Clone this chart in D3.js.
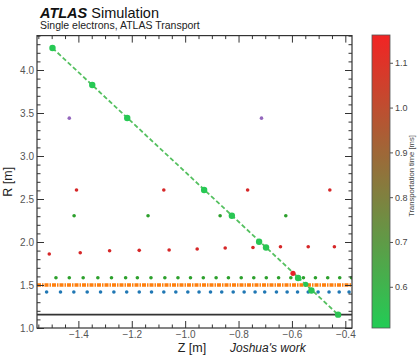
<!DOCTYPE html>
<html>
<head>
<meta charset="utf-8">
<script src="https://cdn.jsdelivr.net/npm/d3@7"></script>
<style>
  body { margin: 0; background: #fff; }
  svg { font-family: "Liberation Sans", Arial, sans-serif; }
</style>
</head>
<body>
<svg id="chart" width="418" height="355"></svg>
<script>
// track (main dashed line), Z/R in metres, time in ms
const trackZ = [-1.497, -1.348, -1.217, -0.929, -0.825, -0.723, -0.697, -0.577, -0.548, -0.527, -0.427];
const trackR = [4.256, 3.826, 3.442, 2.605, 2.306, 2.003, 1.936, 1.581, 1.508, 1.436, 1.155];
const trackT = [0.52, 0.52, 0.52, 0.52, 0.53, 0.53, 0.53, 0.53, 0.53, 0.54, 0.54];
const trackSize = [3.2, 3.2, 3.2, 3.2, 3.2, 3.2, 3.2, 3.2, 2.6, 3.2, 3.2];

// detector layer hits
const blueZ = [-1.519, -1.467, -1.417, -1.367, -1.317, -1.267, -1.219, -1.172, -1.126, -1.080, -1.035, -0.990, -0.948, -0.905,
  -0.863, -0.820, -0.779, -0.738, -0.702, -0.658, -0.618, -0.579, -0.539, -0.502, -0.461, -0.423, -0.386];
const blueR = 1.419;
const greenLowZ = [-1.484, -1.434, -1.382, -1.327, -1.276, -1.223, -1.179, -1.128, -1.076, -1.027, -0.980, -0.932,
  -0.884, -0.838, -0.790, -0.743, -0.696, -0.650, -0.604, -0.557, -0.512, -0.466, -0.421, -0.377];
const greenLowR = 1.585;
const redLowZ = [-1.509, -1.393, -1.283, -1.172, -1.060, -0.955, -0.850, -0.746, -0.643, -0.539, -0.441];
const redLowR = [1.860, 1.875, 1.899, 1.903, 1.907, 1.919, 1.930, 1.936, 1.945, 1.945, 1.945];
const greenHighZ = [-1.416, -1.139, -0.869, -0.623];
const greenHighR = 2.306;
const redHighZ = [-1.407, -1.080, -0.766, -0.458];
const redHighR = 2.605;
const purpleZ = [-1.434, -0.714];
const purpleR = 3.44;
const redExtraZ = [-0.596];
const redExtraR = [1.636];
const orangeZ = [-1.555, -0.375];
const orangeR = [1.5, 1.5];
const blackZ = [-1.555, -0.375];
const blackR = [1.155, 1.155];

const xTicks = [-1.4, -1.2, -1.0, -0.8, -0.6, -0.4];
const yTicks = [1.0, 1.5, 2.0, 2.5, 3.0, 3.5, 4.0];
const cbTicks = [0.6, 0.7, 0.8, 0.9, 1.0, 1.1];

const svg = d3.select("#chart");
const plotL = 37, plotR = 352, plotT = 35.6, plotB = 328;

const x = d3.scaleLinear().domain([-1.555, -0.375]).range([plotL, plotR]);
const y = d3.scaleLinear().domain([1.0, 4.4]).range([plotB, plotT]);
const color = d3.scaleLinear().domain([0.508, 1.162]).range(["#22cc55", "#f22424"]);

const axisColor = "#333";

// clip for the plot area
svg.append("clipPath").attr("id", "plotclip")
  .append("rect").attr("x", plotL).attr("y", plotT).attr("width", plotR - plotL).attr("height", plotB - plotT);

const plot = svg.append("g").attr("clip-path", "url(#plotclip)");

// horizontal reference lines
plot.append("line")
  .attr("x1", x(blackZ[0])).attr("x2", x(blackZ[1]))
  .attr("y1", y(blackR[0])).attr("y2", y(blackR[1]))
  .attr("stroke", "#333").attr("stroke-width", 1.6);

plot.append("line")
  .attr("x1", x(orangeZ[0])).attr("x2", x(orangeZ[1]))
  .attr("y1", y(orangeR[0])).attr("y2", y(orangeR[1]))
  .attr("stroke", "#ff7f0e").attr("stroke-width", 3.4)
  .attr("stroke-dasharray", "4 1 1.5 1");

// small layer dots
function dots(zs, rs, fill, rad) {
  plot.append("g").selectAll("circle")
    .data(zs)
    .enter()
    .append("circle")
      .attr("cx", d => x(d))
      .attr("cy", (d, i) => y(Array.isArray(rs) ? rs[i] : rs))
      .attr("r", rad || 1.8)
      .attr("fill", fill);
}
dots(blueZ, blueR, "#1f77b4");
dots(greenLowZ, greenLowR, "#2ca02c");
dots(redLowZ, redLowR, "#d62728");
dots(greenHighZ, greenHighR, "#2ca02c");
dots(redHighZ, redHighR, "#d62728");
dots(purpleZ, purpleR, "#9467bd");

// track
const track = trackZ.map((z, i) => ({z: z, r: trackR[i], t: trackT[i], s: trackSize[i]}));
plot.append("path")
  .datum([track[0], track[track.length - 1]])
  .attr("d", d3.line().x(d => x(d.z)).y(d => y(d.r)))
  .attr("fill", "none")
  .attr("stroke", "#55c060")
  .attr("stroke-width", 1.8)
  .attr("stroke-dasharray", "4.5 2.5");

plot.append("g").selectAll("circle")
  .data(track)
  .enter()
  .append("circle")
    .attr("cx", d => x(d.z))
    .attr("cy", d => y(d.r))
    .attr("r", d => d.s)
    .attr("fill", d => color(d.t));

dots(redExtraZ, redExtraR, "#e8232a", 2.6);

// axes, ATLAS style: ticks inside on all four sides
const xMinor = d3.range(-1.55, -0.374, 0.05).filter(v => !xTicks.some(t => Math.abs(t - v) < 1e-6));
const yMinor = d3.range(1.1, 4.41, 0.1).filter(v => !yTicks.some(t => Math.abs(t - v) < 1e-6));

svg.append("g").attr("transform", "translate(0," + plotB + ")")
  .call(d3.axisBottom(x).tickValues(xTicks).tickSize(-7).tickPadding(3).tickFormat(d3.format(".1f")))
  .call(g => g.select(".domain").remove());
svg.append("g").attr("transform", "translate(0," + plotB + ")")
  .call(d3.axisBottom(x).tickValues(xMinor).tickSize(-3.5).tickFormat(""))
  .call(g => g.select(".domain").remove());
svg.append("g").attr("transform", "translate(0," + plotT + ")")
  .call(d3.axisTop(x).tickValues(xTicks).tickSize(-7).tickFormat(""))
  .call(g => g.select(".domain").remove());
svg.append("g").attr("transform", "translate(0," + plotT + ")")
  .call(d3.axisTop(x).tickValues(xMinor).tickSize(-3.5).tickFormat(""))
  .call(g => g.select(".domain").remove());

svg.append("g").attr("transform", "translate(" + plotL + ",0)")
  .call(d3.axisLeft(y).tickValues(yTicks).tickSize(-7).tickPadding(3).tickFormat(d3.format(".1f")))
  .call(g => g.select(".domain").remove());
svg.append("g").attr("transform", "translate(" + plotL + ",0)")
  .call(d3.axisLeft(y).tickValues(yMinor).tickSize(-3.5).tickFormat(""))
  .call(g => g.select(".domain").remove());
svg.append("g").attr("transform", "translate(" + plotR + ",0)")
  .call(d3.axisRight(y).tickValues(yTicks).tickSize(-7).tickFormat(""))
  .call(g => g.select(".domain").remove());
svg.append("g").attr("transform", "translate(" + plotR + ",0)")
  .call(d3.axisRight(y).tickValues(yMinor).tickSize(-3.5).tickFormat(""))
  .call(g => g.select(".domain").remove());

svg.selectAll(".tick line").attr("stroke", axisColor);
svg.selectAll(".tick text").attr("fill", "#555").style("font-size", "10px");

svg.append("rect")
  .attr("x", plotL).attr("y", plotT).attr("width", plotR - plotL).attr("height", plotB - plotT)
  .attr("fill", "none").attr("stroke", axisColor).attr("stroke-width", 1.2);

// axis labels
svg.append("text")
  .attr("transform", "translate(12," + ((plotT + plotB) / 2) + ") rotate(-90)")
  .attr("text-anchor", "middle")
  .style("font-size", "12.5px")
  .attr("fill", "#222")
  .text("R [m]");

svg.append("text")
  .attr("x", 192).attr("y", 352)
  .attr("text-anchor", "middle")
  .style("font-size", "12.5px")
  .attr("fill", "#222")
  .text("Z [m]");

svg.append("text")
  .attr("x", 230).attr("y", 352)
  .style("font-size", "12px")
  .style("font-style", "italic")
  .attr("fill", "#222")
  .text("Joshua's work");

// title block
const title = svg.append("text").attr("x", 40).attr("y", 17.5).style("font-size", "14.5px").attr("fill", "#111");
title.append("tspan").style("font-weight", "bold").style("font-style", "italic").text("ATLAS");
title.append("tspan").text(" Simulation");

svg.append("text")
  .attr("x", 40).attr("y", 29)
  .style("font-size", "10.5px")
  .attr("fill", "#222")
  .text("Single electrons, ATLAS Transport");

// colour bar
const cbLeft = 372, cbWidth = 18;
const cbY = d3.scaleLinear().domain(color.domain()).range([plotB, plotT - 0.6]);

const grad = svg.append("defs").append("linearGradient")
  .attr("id", "cbgrad").attr("x1", 0).attr("y1", 1).attr("x2", 0).attr("y2", 0);
grad.selectAll("stop")
  .data(color.domain())
  .enter()
  .append("stop")
    .attr("offset", (d, i) => i)
    .attr("stop-color", d => color(d));

svg.append("rect")
  .attr("x", cbLeft).attr("y", cbY.range()[1])
  .attr("width", cbWidth).attr("height", cbY.range()[0] - cbY.range()[1])
  .attr("fill", "url(#cbgrad)")
  .attr("stroke", "#555").attr("stroke-width", 0.8);

svg.append("g").attr("transform", "translate(" + (cbLeft + cbWidth) + ",0)")
  .call(d3.axisRight(cbY).tickValues(cbTicks).tickSize(3).tickPadding(2).tickFormat(d3.format(".1f")))
  .call(g => g.select(".domain").remove())
  .call(g => g.selectAll("line").attr("stroke", "#555"))
  .call(g => g.selectAll("text").attr("fill", "#444").style("font-size", "9px"));

svg.append("text")
  .attr("transform", "translate(414," + 176 + ") rotate(-90)")
  .attr("text-anchor", "middle")
  .style("font-size", "7.6px")
  .attr("fill", "#444")
  .text("Transportation time [ms]");
</script>
</body>
</html>
